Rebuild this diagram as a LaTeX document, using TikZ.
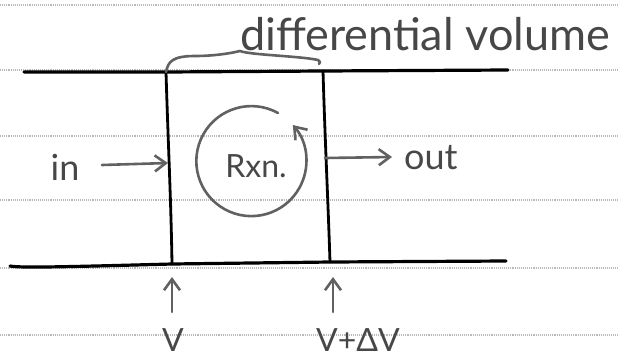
\documentclass[tikz,border=0pt]{standalone}
\usepackage{fontspec}
\setmainfont{Lato}
\usetikzlibrary{arrows.meta}
\tikzset{
  ruling/.style={gray!55, line width=1.1pt, densely dotted},
  pipe/.style={black, line width=3.2pt, line cap=round},
  wall/.style={black, line width=2.8pt, line cap=round},
  pen/.style={black!62, line width=2.6pt, line cap=round, line join=round},
  penarrow/.style={pen, -{Straight Barb[length=11pt, width=16pt, line width=2.6pt]}},
  handtext/.style={text=black!72, inner sep=0pt, font=\fontsize{#1}{#1}\selectfont},
}
\begin{document}
\begin{tikzpicture}[x=1pt, y=-1pt]
  \useasboundingbox[fill=white] (0,0) rectangle (618,357);

  % ruled lines of the notebook page
  \foreach \yy in {5,70,136,200,268,335}
    \draw[ruling] (0,\yy) -- (618,\yy);

  % corners of the differential volume
  \coordinate (tl) at (166,72);
  \coordinate (tr) at (323,71);
  \coordinate (bl) at (172,264);
  \coordinate (br) at (330,262);

  % pipe walls and the control volume
  \coordinate (pipeTL) at (24,72);
  \coordinate (pipeTR) at (508,70);
  \coordinate (pipeBL) at (10,266);
  \coordinate (pipeBR) at (506,261);
  \draw[pipe] (pipeTL) -- (tl) -- (tr) -- (pipeTR);
  \draw[pipe] (pipeBL) .. controls (20,268) and (60,267) .. (bl) -- (br) -- (pipeBR);
  \draw[wall] (tl) .. controls (168,140) and (171,200) .. (bl);
  \draw[wall] (tr) .. controls (325,140) and (328,200) .. (br);

  % brace marking the differential volume
  \draw[pen] (tl) .. controls (168,62) and (172,56) .. (195,56)
             .. controls (215,56) and (232,53) .. (240,51)
             .. controls (250,55) and (300,56) .. (318,60)
             .. controls (320,61) and (321,63) .. (319,64);
  \node[handtext=45, anchor=base west] (dv) at (240,50) {differential volume};

  % inflow and outflow
  \node[handtext=36, anchor=base] (in) at (65,180) {in};
  \coordinate (inEnd) at (168,163);
  \draw[penarrow] (102,165) -- (inEnd);
  \coordinate (outStart) at (325,158);
  \node[handtext=36, anchor=base west] (out) at (404,169) {out};
  \draw[penarrow] (outStart) -- (392,157);

  % reaction inside the volume
  \node[handtext=32] (rxn) at (256,166) {Rxn.};
  \draw[penarrow] (278,113) arc[start angle=-61, end angle=-401, radius=55];

  % position markers below the pipe
  \node[handtext=32, anchor=base] (v) at (173,351) {V};
  \node[handtext=32, anchor=base] (vdv) at (358,351) {V+ΔV};
  \coordinate (vTail) at (172,312);
  \coordinate (vdvTail) at (333,312);
  \draw[penarrow] (vTail) -- (172,277);
  \draw[penarrow] (vdvTail) -- (333,277);
\end{tikzpicture}
\end{document}
